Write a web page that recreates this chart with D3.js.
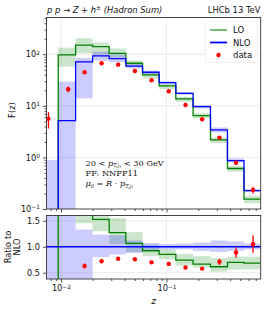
<!DOCTYPE html>
<html>
<head>
<meta charset="utf-8">
<script src="https://cdn.jsdelivr.net/npm/d3@7"></script>
<style>
  body { margin: 0; background: #fff; }
  svg { display: block; font-family: "DejaVu Sans", sans-serif; }
</style>
</head>
<body>
<script>
// bin edges in z (log spaced)
const binEdges = [0.00656, 0.00943, 0.01377, 0.01995, 0.02864, 0.04119, 0.05929, 0.08511, 0.1225, 0.1785, 0.2608, 0.3777, 0.5420, 0.7798];

// main panel F(z)
const loValues   = [0.01, 97, 151, 140, 104, 67, 39.7, 24.3, 13.6, 6.46, 2.18, 0.61, 0.155];
const loBandLow  = [0.001, 57.5, 105, 100, 88, 58, 34, 21, 12, 5.7, 1.9, 0.53, 0.13];
const loBandHigh = [0.001, 134, 205, 170, 130, 76, 45, 27, 15, 7.2, 2.45, 0.68, 0.18];

const nloValues   = [0.01, 5.16, 71, 92.7, 82, 59, 44.8, 28.2, 17.5, 9.65, 3.41, 0.87, 0.227];
const nloBandLow  = [0.001, 0.001, 14, 75, 70, 53, 41, 26.5, 16.5, 8.9, 3.05, 0.8, 0.215];
const nloBandHigh = [0.89, 29.5, 85, 112, 98, 66, 48, 30, 18.6, 10.4, 3.8, 0.96, 0.242];

const dataZ      = [0.00762, 0.01172, 0.01675, 0.02426, 0.03483, 0.05012, 0.07211, 0.1051, 0.1513, 0.2174, 0.3172, 0.4555, 0.6597];
const dataValues = [5.6, 21, 44.8, 67, 62.9, 47.4, 31.3, 19.2, 10.4, 5.5, 2.42, 0.79, 0.234];
const dataRelErr = [0.35, 0.13, 0.04, 0.03, 0.03, 0.03, 0.03, 0.03, 0.03, 0.04, 0.05, 0.1, 0.15];

// ratio panel (to NLO)
const loRatio     = [0.1, 18, 2.1, 1.527, 1.27, 1.065, 0.923, 0.853, 0.744, 0.667, 0.615, 0.70, 0.686];
const loRatioLow  = [0.1, 10, 1.45, 1.3, 1.05, 0.9, 0.82, 0.76, 0.64, 0.6, 0.52, 0.56, 0.565];
const loRatioHigh = [0.1, 26, 3, 1.8, 1.55, 1.28, 1.04, 0.95, 0.86, 0.82, 0.78, 0.81, 0.81];
const nloRatio     = [1, 1, 1, 1, 1, 1, 1, 1, 1, 1, 1, 1, 1];
const nloRatioLow  = [-1, -1, 0.2, 0.8, 0.85, 0.88, 0.93, 0.95, 0.95, 0.92, 0.9, 0.92, 0.95];
const nloRatioHigh = [3, 6, 1.33, 1.23, 1.22, 1.12, 1.07, 1.05, 1.06, 1.08, 1.12, 1.1, 1.06];
const dataRatio    = [null, null, 0.63, 0.72, 0.77, 0.76, 0.70, 0.67, 0.60, 0.58, 0.71, 0.89, 1.05];
const dataRatioErr = [0, 0, 0.05, 0.03, 0.03, 0.03, 0.03, 0.03, 0.03, 0.03, 0.06, 0.1, 0.17];

const mainTicks = [0.1, 1, 10, 100];
const ratioTicks = [0.5, 1.0, 1.5];
const xTicks = [0.01, 0.1];

const W = 267, H = 312;
const left = 46.5, right = 260.7;
const mainTop = 17.5, mainBottom = 209;
const ratTop = 215.5, ratBottom = 279;

const LO_COL = "#008000", NLO_COL = "#0000ff";

const svg = d3.select("body").append("svg").attr("width", W).attr("height", H);
svg.append("rect").attr("width", W).attr("height", H).attr("fill", "#fff");

const x = d3.scaleLog().domain([0.0073, 0.7798]).range([left, right]);
const y = d3.scaleLog().domain([0.1, 516]).range([mainBottom, mainTop]);
const yr = d3.scaleLinear().domain([0.38, 1.6]).range([ratBottom, ratTop]);

const defs = svg.append("defs");
defs.append("clipPath").attr("id", "clipMain").append("rect")
  .attr("x", left).attr("y", mainTop).attr("width", right - left).attr("height", mainBottom - mainTop);
defs.append("clipPath").attr("id", "clipRat").append("rect")
  .attr("x", left).attr("y", ratTop).attr("width", right - left).attr("height", ratBottom - ratTop);

// minor tick values for log axes
const minorX = [];
[0.001, 0.01, 0.1].forEach(d => { for (let k = 2; k <= 9; k++) { const v = d * k; if (v >= 0.0073 && v <= 0.7798) minorX.push(v); } });
const minorY = [];
[0.1, 1, 10, 100].forEach(d => { for (let k = 2; k <= 9; k++) { const v = d * k; if (v <= 516) minorY.push(v); } });

function powLabels(g) {
  g.selectAll(".tick text").each(function(d) {
    const t = d3.select(this);
    const e = Math.round(Math.log10(d));
    t.text(null);
    t.append("tspan").text("10");
    t.append("tspan").attr("dy", "-0.45em").attr("font-size", "0.72em").text(e < 0 ? "\u2212" + (-e) : e);
  });
}

function stepPts(vals) {
  const pts = [];
  vals.forEach((v, i) => { pts.push([binEdges[i], v]); pts.push([binEdges[i + 1], v]); });
  return pts;
}

function panel(yScale, top, bottom, clipId, gridVals) {
  const g = svg.append("g");
  g.selectAll(".gx").data(xTicks).enter().append("line")
    .attr("x1", d => x(d)).attr("x2", d => x(d)).attr("y1", top).attr("y2", bottom)
    .attr("stroke", "#e6e6e6").attr("stroke-width", 0.8);
  g.selectAll(".gy").data(gridVals).enter().append("line")
    .attr("x1", left).attr("x2", right).attr("y1", d => yScale(d)).attr("y2", d => yScale(d))
    .attr("stroke", "#e6e6e6").attr("stroke-width", 0.8);
  return g.append("g").attr("clip-path", `url(#${clipId})`);
}

function bands(g, ys, lo, hi, col) {
  g.selectAll(null).data(lo).enter().append("rect")
    .attr("x", (d, i) => x(binEdges[i]))
    .attr("width", (d, i) => x(binEdges[i + 1]) - x(binEdges[i]))
    .attr("y", (d, i) => Math.min(ys(hi[i]), ys(lo[i])))
    .attr("height", (d, i) => Math.abs(ys(lo[i]) - ys(hi[i])))
    .attr("fill", col).attr("fill-opacity", 0.2);
}
function steps(g, ys, vals, col) {
  const line = d3.line().x(d => x(d[0])).y(d => ys(d[1]));
  g.append("path").attr("d", line(stepPts(vals)))
    .attr("fill", "none").attr("stroke", col).attr("stroke-width", 1.3);
}

// ---------- main panel ----------
const gm = panel(y, mainTop, mainBottom, "clipMain", [1, 10, 100]);
bands(gm, y, loBandLow, loBandHigh, LO_COL);
bands(gm, y, nloBandLow, nloBandHigh, NLO_COL);
steps(gm, y, loValues, LO_COL);
steps(gm, y, nloValues, NLO_COL);

const dm = svg.append("g");
dataValues.forEach((v, i) => {
  dm.append("line").attr("x1", x(dataZ[i])).attr("x2", x(dataZ[i]))
    .attr("y1", y(v * (1 - dataRelErr[i]))).attr("y2", y(v * (1 + dataRelErr[i])))
    .attr("stroke", "red").attr("stroke-width", 1.3);
  dm.append("circle").attr("cx", x(dataZ[i])).attr("cy", y(v)).attr("r", 2.2).attr("fill", "red");
});

const axM = svg.append("g").attr("transform", `translate(${left},0)`)
  .call(d3.axisLeft(y).tickValues(mainTicks).tickSize(3.5).tickPadding(3));
axM.selectAll(".tick text").attr("font-size", 8.2);
powLabels(axM);
svg.append("g").attr("transform", `translate(${left},0)`)
  .call(d3.axisLeft(y).tickValues(minorY).tickSize(2).tickFormat(""));
svg.append("g").attr("transform", `translate(0,${mainBottom})`)
  .call(d3.axisBottom(x).tickValues(xTicks).tickSize(3.5).tickFormat(""));
svg.append("g").attr("transform", `translate(0,${mainBottom})`)
  .call(d3.axisBottom(x).tickValues(minorX).tickSize(2).tickFormat(""));

// ---------- ratio panel ----------
const gr = panel(yr, ratTop, ratBottom, "clipRat", ratioTicks);
bands(gr, yr, loRatioLow, loRatioHigh, LO_COL);
bands(gr, yr, nloRatioLow, nloRatioHigh, NLO_COL);
steps(gr, yr, loRatio, LO_COL);
steps(gr, yr, nloRatio, NLO_COL);

const dr = svg.append("g").attr("clip-path", "url(#clipRat)");
dataRatio.forEach((v, i) => {
  if (v === null) return;
  dr.append("line").attr("x1", x(dataZ[i])).attr("x2", x(dataZ[i]))
    .attr("y1", yr(v - dataRatioErr[i])).attr("y2", yr(v + dataRatioErr[i]))
    .attr("stroke", "red").attr("stroke-width", 1.3);
  dr.append("circle").attr("cx", x(dataZ[i])).attr("cy", yr(v)).attr("r", 2.2).attr("fill", "red");
});

const axR = svg.append("g").attr("transform", `translate(${left},0)`)
  .call(d3.axisLeft(yr).tickValues(ratioTicks).tickSize(3.5).tickPadding(3).tickFormat(d3.format(".1f")));
axR.selectAll(".tick text").attr("font-size", 8.2);
const axX = svg.append("g").attr("transform", `translate(0,${ratBottom})`)
  .call(d3.axisBottom(x).tickValues(xTicks).tickSize(3.5).tickPadding(3));
axX.selectAll(".tick text").attr("font-size", 8.2);
powLabels(axX);
svg.append("g").attr("transform", `translate(0,${ratBottom})`)
  .call(d3.axisBottom(x).tickValues(minorX).tickSize(2).tickFormat(""));

svg.selectAll(".domain").remove();
svg.selectAll(".tick line").attr("stroke", "#222").attr("stroke-width", 0.8);
svg.selectAll(".tick text").attr("fill", "#111").attr("font-family", "DejaVu Sans, sans-serif");

// frames
[[mainTop, mainBottom], [ratTop, ratBottom]].forEach(([t, b]) => {
  svg.append("rect").attr("x", left).attr("y", t).attr("width", right - left).attr("height", b - t)
    .attr("fill", "none").attr("stroke", "#333").attr("stroke-width", 0.9);
});

// ---------- legend ----------
const lg = svg.append("g");
lg.append("rect").attr("x", 205.5).attr("y", 21.5).attr("width", 51.5).attr("height", 41)
  .attr("rx", 2).attr("fill", "#fff").attr("fill-opacity", 0.8).attr("stroke", "#ededed").attr("stroke-width", 0.8);
const legItems = [["LO", LO_COL, "line"], ["NLO", NLO_COL, "line"], ["data", "red", "dot"]];
legItems.forEach(([lab, col, kind], i) => {
  const yy = 30 + i * 12.5;
  if (kind === "line") {
    lg.append("line").attr("x1", 210).attr("x2", 227).attr("y1", yy).attr("y2", yy)
      .attr("stroke", col).attr("stroke-width", 1.8).attr("stroke-opacity", i === 0 ? 0.6 : 1);
  } else {
    lg.append("circle").attr("cx", 218.5).attr("cy", yy).attr("r", 2.2).attr("fill", col);
  }
  lg.append("text").attr("x", 233).attr("y", yy + 3).attr("font-size", 8.5).attr("fill", "#111").text(lab);
});

// ---------- titles & labels ----------
const title = svg.append("text").attr("x", 47).attr("y", 13).attr("font-size", 8.4).attr("fill", "#111");
title.append("tspan").attr("font-style", "italic").text("p p");
title.append("tspan").text(" \u2192 ");
title.append("tspan").attr("font-style", "italic").text("Z");
title.append("tspan").text(" + ");
title.append("tspan").attr("font-style", "italic").text("h");
title.append("tspan").attr("dy", -3).attr("font-size", 6).text("\u00b1");
title.append("tspan").attr("dy", 3).attr("font-style", "italic").text(" (Hadron Sum)");

svg.append("text").attr("x", 260.5).attr("y", 13).attr("text-anchor", "end")
  .attr("font-size", 8.4).attr("fill", "#111").text("LHCb 13 TeV");

svg.append("text").attr("transform", "translate(14.5,110) rotate(-90)").attr("text-anchor", "middle")
  .attr("font-size", 8.4).attr("fill", "#111").text("F(z)");
svg.append("text").attr("transform", "translate(11,247) rotate(-90)").attr("text-anchor", "middle")
  .attr("font-size", 8.4).attr("fill", "#111").text("Ratio to");
svg.append("text").attr("transform", "translate(19.5,247) rotate(-90)").attr("text-anchor", "middle")
  .attr("font-size", 8.4).attr("fill", "#111").text("NLO");
svg.append("text").attr("x", 153.5).attr("y", 304).attr("text-anchor", "middle")
  .attr("font-size", 9).attr("font-style", "italic").attr("fill", "#111").text("z");

// annotation
const ann = svg.append("g").attr("font-family", "DejaVu Serif, serif").attr("font-size", 8.2).attr("fill", "#111");
const a1 = ann.append("text").attr("x", 85.5).attr("y", 165.5);
a1.append("tspan").text("20 < ");
a1.append("tspan").attr("font-style", "italic").text("p");
a1.append("tspan").attr("dy", 1.5).attr("font-size", 5).attr("font-style", "italic").text("T,");
a1.append("tspan").attr("font-size", 5).attr("font-style", "italic").text("j");
a1.append("tspan").attr("dy", 0.8).attr("font-size", 3.6).text("1");
a1.append("tspan").attr("dy", -2.3).text(" < 30 GeV");
ann.append("text").attr("x", 85.5).attr("y", 176).text("FF: NNFF11");
const a3 = ann.append("text").attr("x", 85.5).attr("y", 186);
a3.append("tspan").attr("font-style", "italic").text("\u03bc");
a3.append("tspan").attr("dy", 1.5).attr("font-size", 5).attr("font-style", "italic").text("0");
a3.append("tspan").attr("dy", -1.5).text(" = ");
a3.append("tspan").attr("font-style", "italic").text("R");
a3.append("tspan").text(" \u00b7 ");
a3.append("tspan").attr("font-style", "italic").text("p");
a3.append("tspan").attr("dy", 1.5).attr("font-size", 5).attr("font-style", "italic").text("T,");
a3.append("tspan").attr("font-size", 5).attr("font-style", "italic").text("j");
a3.append("tspan").attr("dy", 0.8).attr("font-size", 3.6).text("1");
</script>
</body>
</html>
